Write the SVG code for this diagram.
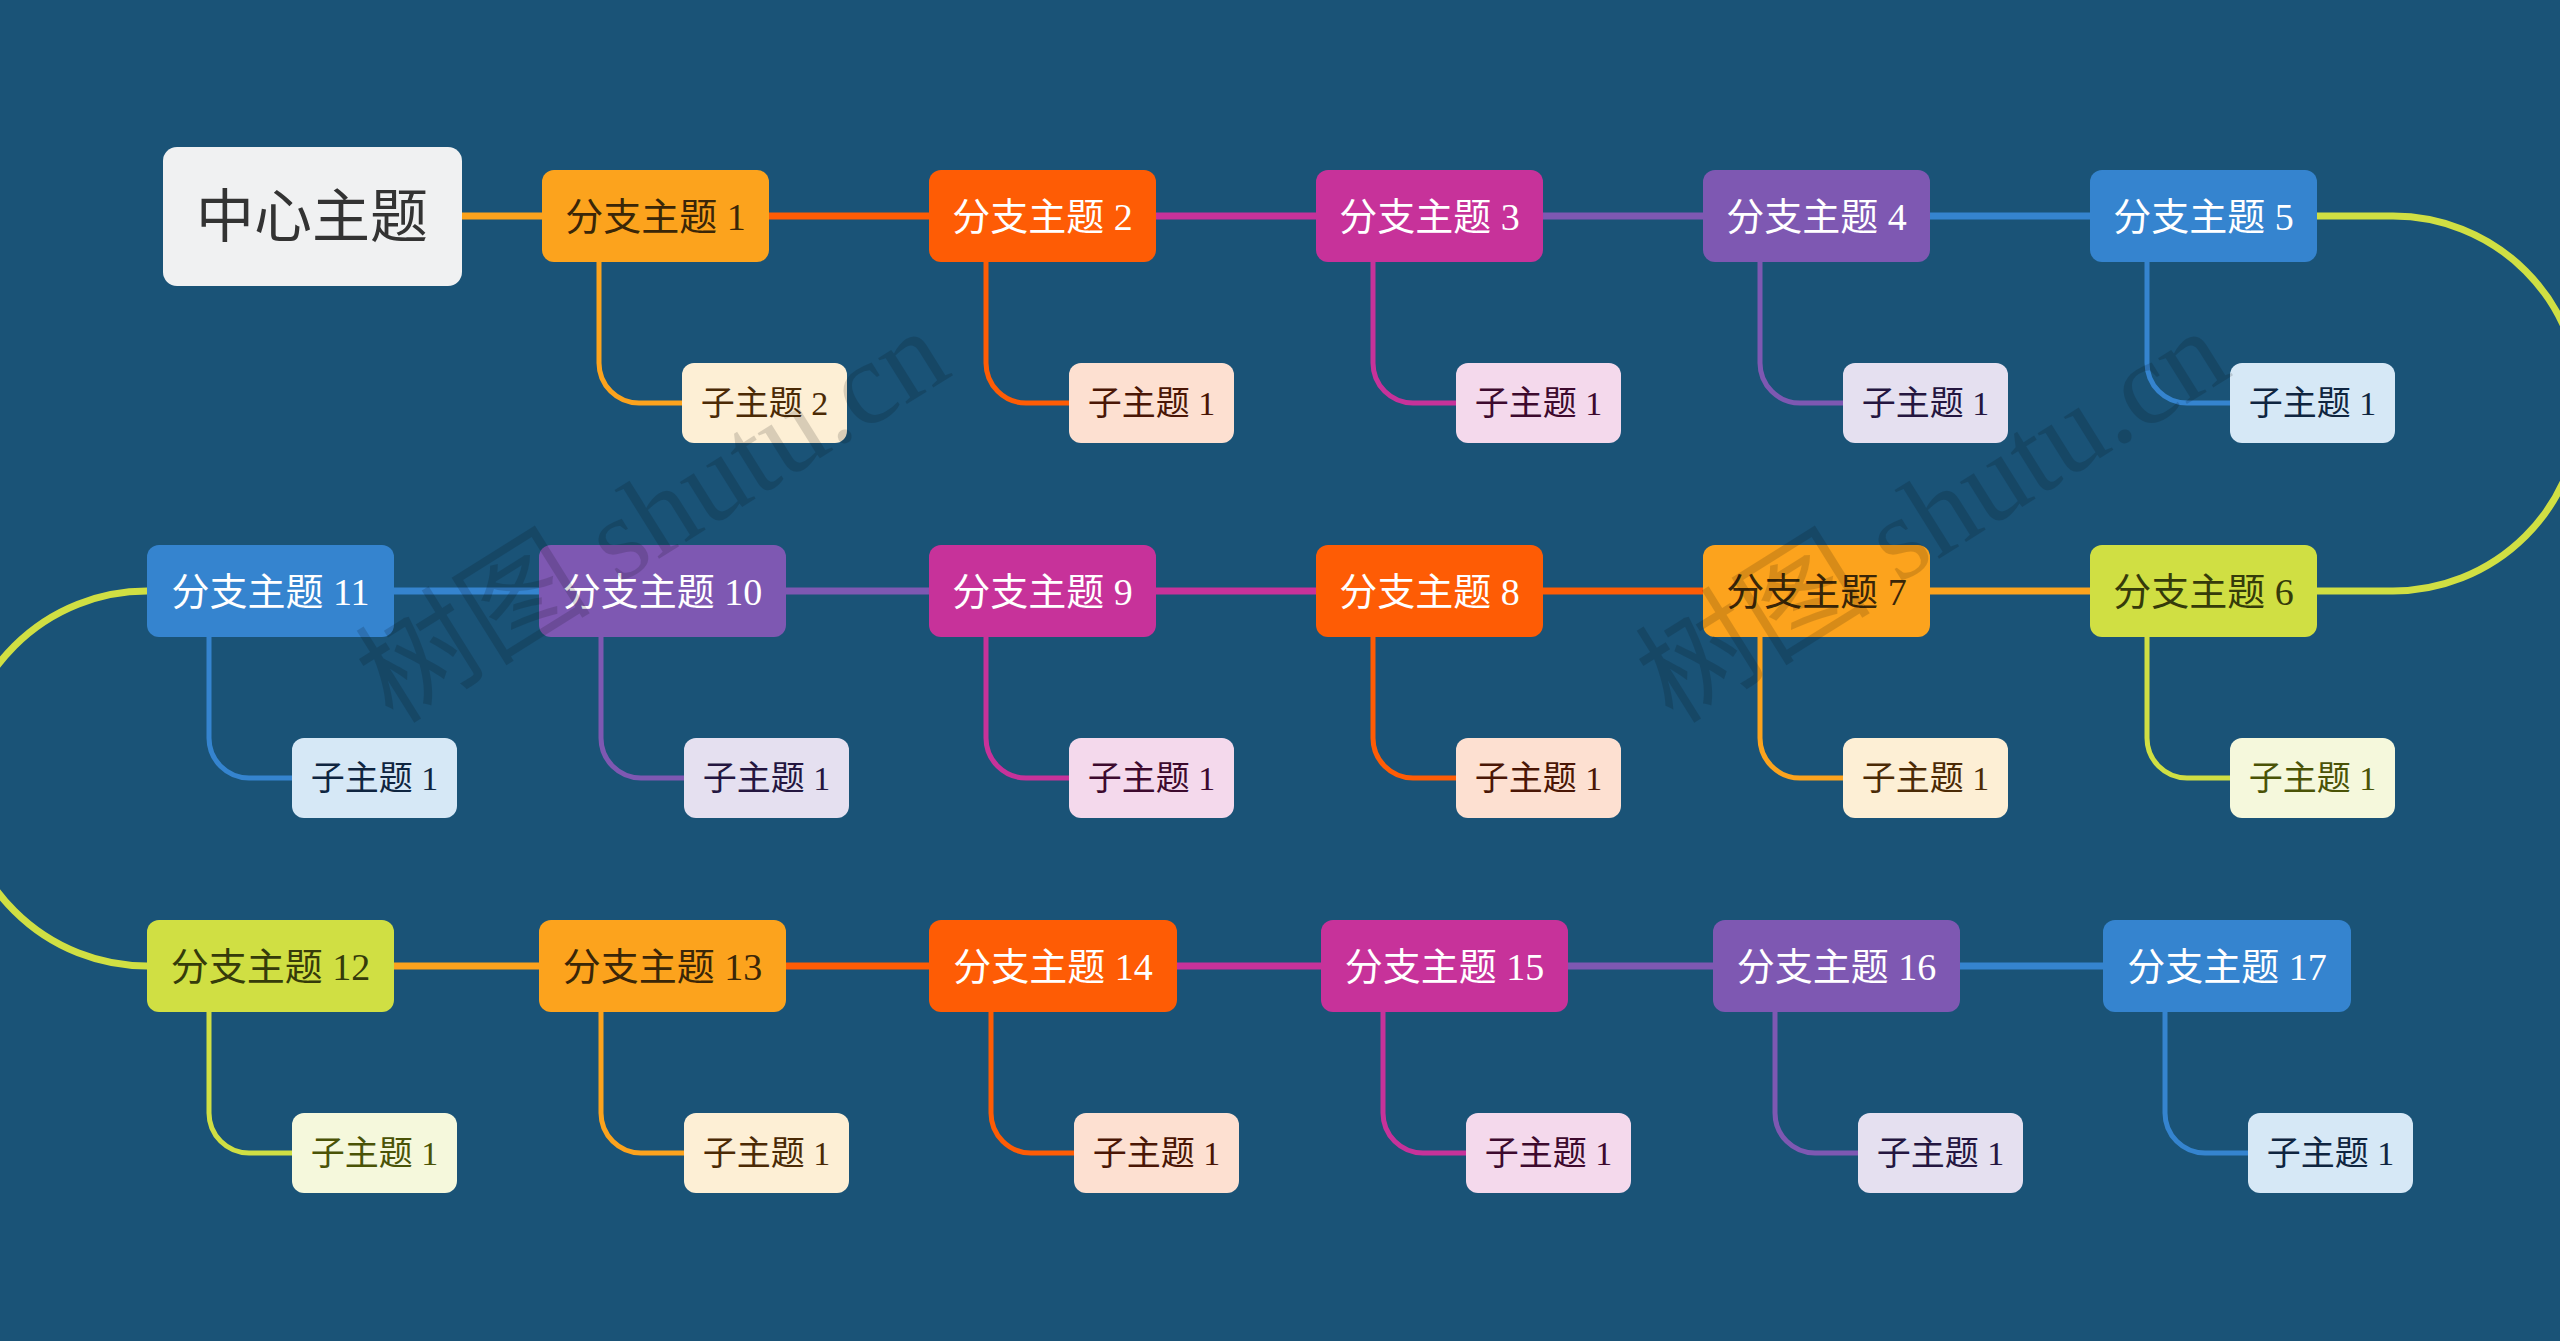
<svg xmlns="http://www.w3.org/2000/svg" width="2560" height="1341" viewBox="0 0 2560 1341">
<style>
.bg{fill:#1a5377}
.t{font-family:"Liberation Serif","Noto Sans CJK SC",serif;text-anchor:middle}
.bt{font-size:38px}
.st{font-size:34px}
.ln{fill:none;stroke-width:7;stroke-linecap:butt}
.sl{fill:none;stroke-width:5}
.or{fill:#fca31d}.re{fill:#fe5c05}.ma{fill:#c7329a}.pu{fill:#7e58b2}.bl{fill:#3584cf}.ye{fill:#d0df43}
.sor{fill:#fdefd5}.sre{fill:#fde0d1}.sma{fill:#f4d9ec}.spu{fill:#e5e0f0}.sbl{fill:#d6e8f6}.sye{fill:#f5f8dc}
.cor{stroke:#fca31d}.cre{stroke:#fe5c05}.cma{stroke:#c7329a}.cpu{stroke:#7e58b2}.cbl{stroke:#3584cf}.cye{stroke:#d0df43}
.w{fill:#ffffff}.dor{fill:#3a2608}.dye{fill:#353b0a}
.xor{fill:#4b2a05}.xre{fill:#4a1605}.xma{fill:#3d0a2e}.xpu{fill:#241640}.xbl{fill:#0f2540}.xye{fill:#4a5306}
.wm{font-family:"Liberation Serif","Noto Sans CJK SC",serif;font-size:118px;fill:#000;opacity:0.14}
</style>
<rect class="bg" x="0" y="0" width="2560" height="1341"/>
<g id="connectors">
<path class="ln cor" d="M462,216 H542"/>
<path class="ln cre" d="M769,216 H929"/>
<path class="ln cma" d="M1156,216 H1316"/>
<path class="ln cpu" d="M1543,216 H1703"/>
<path class="ln cbl" d="M1930,216 H2090"/>
<path class="ln cye" d="M2317,216 H2393 A187.5,187.5 0 0 1 2393,591 H2317"/>
<path class="ln cor" d="M2090,591 H1930"/>
<path class="ln cre" d="M1703,591 H1543"/>
<path class="ln cma" d="M1316,591 H1156"/>
<path class="ln cpu" d="M929,591 H786"/>
<path class="ln cbl" d="M539,591 H394"/>
<path class="ln cye" d="M147,591 A187.5,187.5 0 0 0 147,966"/>
<path class="ln cor" d="M394,966 H539"/>
<path class="ln cre" d="M786,966 H929"/>
<path class="ln cma" d="M1177,966 H1321"/>
<path class="ln cpu" d="M1568,966 H1713"/>
<path class="ln cbl" d="M1960,966 H2103"/>
<path class="sl cor" d="M599,262 V363 A40,40 0 0 0 639,403 H682"/>
<path class="sl cre" d="M986,262 V363 A40,40 0 0 0 1026,403 H1069"/>
<path class="sl cma" d="M1373,262 V363 A40,40 0 0 0 1413,403 H1456"/>
<path class="sl cpu" d="M1760,262 V363 A40,40 0 0 0 1800,403 H1843"/>
<path class="sl cbl" d="M2147,262 V363 A40,40 0 0 0 2187,403 H2230"/>
<path class="sl cbl" d="M209,637 V738 A40,40 0 0 0 249,778 H292"/>
<path class="sl cpu" d="M601,637 V738 A40,40 0 0 0 641,778 H684"/>
<path class="sl cma" d="M986,637 V738 A40,40 0 0 0 1026,778 H1069"/>
<path class="sl cre" d="M1373,637 V738 A40,40 0 0 0 1413,778 H1456"/>
<path class="sl cor" d="M1760,637 V738 A40,40 0 0 0 1800,778 H1843"/>
<path class="sl cye" d="M2147,637 V738 A40,40 0 0 0 2187,778 H2230"/>
<path class="sl cye" d="M209,1012 V1113 A40,40 0 0 0 249,1153 H292"/>
<path class="sl cor" d="M601,1012 V1113 A40,40 0 0 0 641,1153 H684"/>
<path class="sl cre" d="M991,1012 V1113 A40,40 0 0 0 1031,1153 H1074"/>
<path class="sl cma" d="M1383,1012 V1113 A40,40 0 0 0 1423,1153 H1466"/>
<path class="sl cpu" d="M1775,1012 V1113 A40,40 0 0 0 1815,1153 H1858"/>
<path class="sl cbl" d="M2165,1012 V1113 A40,40 0 0 0 2205,1153 H2248"/>
</g>
<g id="center"><rect x="163" y="147" width="299" height="139" rx="14" fill="#f0f1f2"/><text x="312" y="237" font-family="'Noto Sans CJK SC',sans-serif" font-size="58" text-anchor="middle" fill="#333333">中心主题</text></g>
<g id="b1"><rect class="or" x="542" y="170" width="227" height="92" rx="12"/><text class="t bt dor" x="655.5" y="230">分支主题 1</text></g>
<g id="b2"><rect class="re" x="929" y="170" width="227" height="92" rx="12"/><text class="t bt w" x="1042.5" y="230">分支主题 2</text></g>
<g id="b3"><rect class="ma" x="1316" y="170" width="227" height="92" rx="12"/><text class="t bt w" x="1429.5" y="230">分支主题 3</text></g>
<g id="b4"><rect class="pu" x="1703" y="170" width="227" height="92" rx="12"/><text class="t bt w" x="1816.5" y="230">分支主题 4</text></g>
<g id="b5"><rect class="bl" x="2090" y="170" width="227" height="92" rx="12"/><text class="t bt w" x="2203.5" y="230">分支主题 5</text></g>
<g id="b6"><rect class="ye" x="2090" y="545" width="227" height="92" rx="12"/><text class="t bt dye" x="2203.5" y="605">分支主题 6</text></g>
<g id="b7"><rect class="or" x="1703" y="545" width="227" height="92" rx="12"/><text class="t bt dor" x="1816.5" y="605">分支主题 7</text></g>
<g id="b8"><rect class="re" x="1316" y="545" width="227" height="92" rx="12"/><text class="t bt w" x="1429.5" y="605">分支主题 8</text></g>
<g id="b9"><rect class="ma" x="929" y="545" width="227" height="92" rx="12"/><text class="t bt w" x="1042.5" y="605">分支主题 9</text></g>
<g id="b10"><rect class="pu" x="539" y="545" width="247" height="92" rx="12"/><text class="t bt w" x="662.5" y="605">分支主题 10</text></g>
<g id="b11"><rect class="bl" x="147" y="545" width="247" height="92" rx="12"/><text class="t bt w" x="270.5" y="605">分支主题 11</text></g>
<g id="b12"><rect class="ye" x="147" y="920" width="247" height="92" rx="12"/><text class="t bt dye" x="270.5" y="980">分支主题 12</text></g>
<g id="b13"><rect class="or" x="539" y="920" width="247" height="92" rx="12"/><text class="t bt dor" x="662.5" y="980">分支主题 13</text></g>
<g id="b14"><rect class="re" x="929" y="920" width="248" height="92" rx="12"/><text class="t bt w" x="1053" y="980">分支主题 14</text></g>
<g id="b15"><rect class="ma" x="1321" y="920" width="247" height="92" rx="12"/><text class="t bt w" x="1444.5" y="980">分支主题 15</text></g>
<g id="b16"><rect class="pu" x="1713" y="920" width="247" height="92" rx="12"/><text class="t bt w" x="1836.5" y="980">分支主题 16</text></g>
<g id="b17"><rect class="bl" x="2103" y="920" width="248" height="92" rx="12"/><text class="t bt w" x="2227" y="980">分支主题 17</text></g>
<g id="s1"><rect class="sor" x="682" y="363" width="165" height="80" rx="12"/><text class="t st xor" x="764.5" y="415">子主题 2</text></g>
<g id="s2"><rect class="sre" x="1069" y="363" width="165" height="80" rx="12"/><text class="t st xre" x="1151.5" y="415">子主题 1</text></g>
<g id="s3"><rect class="sma" x="1456" y="363" width="165" height="80" rx="12"/><text class="t st xma" x="1538.5" y="415">子主题 1</text></g>
<g id="s4"><rect class="spu" x="1843" y="363" width="165" height="80" rx="12"/><text class="t st xpu" x="1925.5" y="415">子主题 1</text></g>
<g id="s5"><rect class="sbl" x="2230" y="363" width="165" height="80" rx="12"/><text class="t st xbl" x="2312.5" y="415">子主题 1</text></g>
<g id="s11"><rect class="sbl" x="292" y="738" width="165" height="80" rx="12"/><text class="t st xbl" x="374.5" y="790">子主题 1</text></g>
<g id="s10"><rect class="spu" x="684" y="738" width="165" height="80" rx="12"/><text class="t st xpu" x="766.5" y="790">子主题 1</text></g>
<g id="s9"><rect class="sma" x="1069" y="738" width="165" height="80" rx="12"/><text class="t st xma" x="1151.5" y="790">子主题 1</text></g>
<g id="s8"><rect class="sre" x="1456" y="738" width="165" height="80" rx="12"/><text class="t st xre" x="1538.5" y="790">子主题 1</text></g>
<g id="s7"><rect class="sor" x="1843" y="738" width="165" height="80" rx="12"/><text class="t st xor" x="1925.5" y="790">子主题 1</text></g>
<g id="s6"><rect class="sye" x="2230" y="738" width="165" height="80" rx="12"/><text class="t st xye" x="2312.5" y="790">子主题 1</text></g>
<g id="s12"><rect class="sye" x="292" y="1113" width="165" height="80" rx="12"/><text class="t st xye" x="374.5" y="1165">子主题 1</text></g>
<g id="s13"><rect class="sor" x="684" y="1113" width="165" height="80" rx="12"/><text class="t st xor" x="766.5" y="1165">子主题 1</text></g>
<g id="s14"><rect class="sre" x="1074" y="1113" width="165" height="80" rx="12"/><text class="t st xre" x="1156.5" y="1165">子主题 1</text></g>
<g id="s15"><rect class="sma" x="1466" y="1113" width="165" height="80" rx="12"/><text class="t st xma" x="1548.5" y="1165">子主题 1</text></g>
<g id="s16"><rect class="spu" x="1858" y="1113" width="165" height="80" rx="12"/><text class="t st xpu" x="1940.5" y="1165">子主题 1</text></g>
<g id="s17"><rect class="sbl" x="2248" y="1113" width="165" height="80" rx="12"/><text class="t st xbl" x="2330.5" y="1165">子主题 1</text></g>
<g id="watermark">
<text class="wm" x="0" y="0" transform="translate(393,725) rotate(-32)">树图 shutu.cn</text>
<text class="wm" x="0" y="0" transform="translate(1673,725) rotate(-32)">树图 shutu.cn</text>
</g>
</svg>
